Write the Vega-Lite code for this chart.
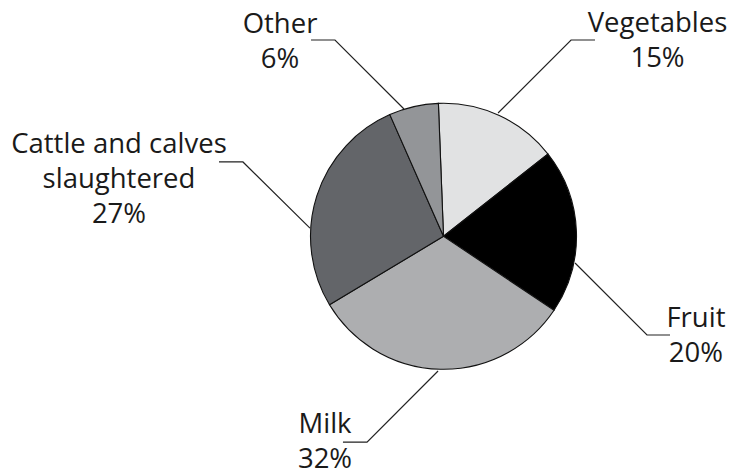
{
  "$schema": "https://vega.github.io/schema/vega-lite/v6.json",
  "width": 730,
  "height": 475,
  "autosize": {"type": "fit", "contains": "padding"},
  "padding": 0,
  "background": "white",
  "config": {
    "view": {"stroke": null},
    "axis": {"disable": true},
    "font": "Open Sans"
  },
  "datasets": {
    "slices": [
      {"name": "Vegetables", "share": 15, "seq": 1},
      {"name": "Fruit", "share": 20, "seq": 2},
      {"name": "Milk", "share": 32, "seq": 3},
      {"name": "Cattle and calves slaughtered", "share": 27, "seq": 4},
      {"name": "Other", "share": 6, "seq": 5}
    ],
    "leaders": [
      {"name": "Vegetables", "step": 1, "x": 0.41, "y": 0.927},
      {"name": "Vegetables", "step": 2, "x": 0.959, "y": 1.476},
      {"name": "Vegetables", "step": 3, "x": 1.139, "y": 1.476},
      {"name": "Fruit", "step": 1, "x": 0.989, "y": -0.201},
      {"name": "Fruit", "step": 2, "x": 1.53, "y": -0.742},
      {"name": "Fruit", "step": 3, "x": 1.703, "y": -0.742},
      {"name": "Milk", "step": 1, "x": -0.041, "y": -1.013},
      {"name": "Milk", "step": 2, "x": -0.575, "y": -1.547},
      {"name": "Milk", "step": 3, "x": -0.756, "y": -1.547},
      {"name": "Cattle and calves slaughtered", "step": 1, "x": -1.004, "y": 0.062},
      {"name": "Cattle and calves slaughtered", "step": 2, "x": -1.508, "y": 0.559},
      {"name": "Cattle and calves slaughtered", "step": 3, "x": -1.688, "y": 0.559},
      {"name": "Other", "step": 1, "x": -0.297, "y": 0.957},
      {"name": "Other", "step": 2, "x": -0.816, "y": 1.476},
      {"name": "Other", "step": 3, "x": -0.996, "y": 1.476}
    ],
    "callouts": [
      {"name": "Vegetables", "title": "Vegetables", "x": 1.609, "y": 1.536},
      {"name": "Fruit", "title": "Fruit", "x": 1.898, "y": -0.682},
      {"name": "Milk", "title": "Milk", "x": -0.891, "y": -1.479},
      {"name": "Cattle and calves slaughtered", "title": "Cattle and calves\nslaughtered", "x": -2.44, "y": 0.626},
      {"name": "Other", "title": "Other", "x": -1.229, "y": 1.529}
    ]
  },
  "layer": [
    {
      "data": {"name": "slices"},
      "mark": {"type": "arc", "outerRadius": 133, "stroke": "#111111", "strokeWidth": 1.1},
      "encoding": {
        "x": {"datum": 0, "type": "quantitative", "scale": {"domain": [-3.3346, 2.1541], "nice": false, "zero": false}, "axis": null},
        "y": {"datum": 0, "type": "quantitative", "scale": {"domain": [-1.7947, 1.7767], "nice": false, "zero": false}, "axis": null},
        "theta": {"field": "share", "type": "quantitative", "stack": true, "scale": {"range": [-0.0384, 6.2448]}},
        "order": {"field": "seq", "type": "quantitative"},
        "color": {
          "field": "name",
          "type": "nominal",
          "legend": null,
          "scale": {
            "domain": ["Vegetables", "Fruit", "Milk", "Cattle and calves slaughtered", "Other"],
            "range": ["#e1e2e3", "#000000", "#adaeb0", "#636569", "#939598"]
          }
        }
      }
    },
    {
      "data": {"name": "leaders"},
      "mark": {"type": "line", "color": "#222222", "strokeWidth": 1.2, "interpolate": "linear"},
      "encoding": {
        "x": {"field": "x", "type": "quantitative", "scale": {"domain": [-3.3346, 2.1541], "nice": false, "zero": false}, "axis": null},
        "y": {"field": "y", "type": "quantitative", "scale": {"domain": [-1.7947, 1.7767], "nice": false, "zero": false}, "axis": null},
        "detail": {"field": "name", "type": "nominal"},
        "order": {"field": "step", "type": "quantitative"}
      }
    },
    {
      "data": {"name": "callouts"},
      "transform": [
        {"lookup": "name", "from": {"data": {"name": "slices"}, "key": "name", "fields": ["share"]}},
        {"calculate": "datum.title + '\\n' + datum.share + '%'", "as": "label"}
      ],
      "mark": {
        "type": "text",
        "align": "center",
        "baseline": "alphabetic",
        "lineBreak": "\n",
        "lineHeight": 35,
        "fontSize": 27.5,
        "color": "#1a1a1a",
        "font": "Open Sans"
      },
      "encoding": {
        "x": {"field": "x", "type": "quantitative", "scale": {"domain": [-3.3346, 2.1541], "nice": false, "zero": false}, "axis": null},
        "y": {"field": "y", "type": "quantitative", "scale": {"domain": [-1.7947, 1.7767], "nice": false, "zero": false}, "axis": null},
        "text": {"field": "label", "type": "nominal"}
      }
    }
  ]
}
